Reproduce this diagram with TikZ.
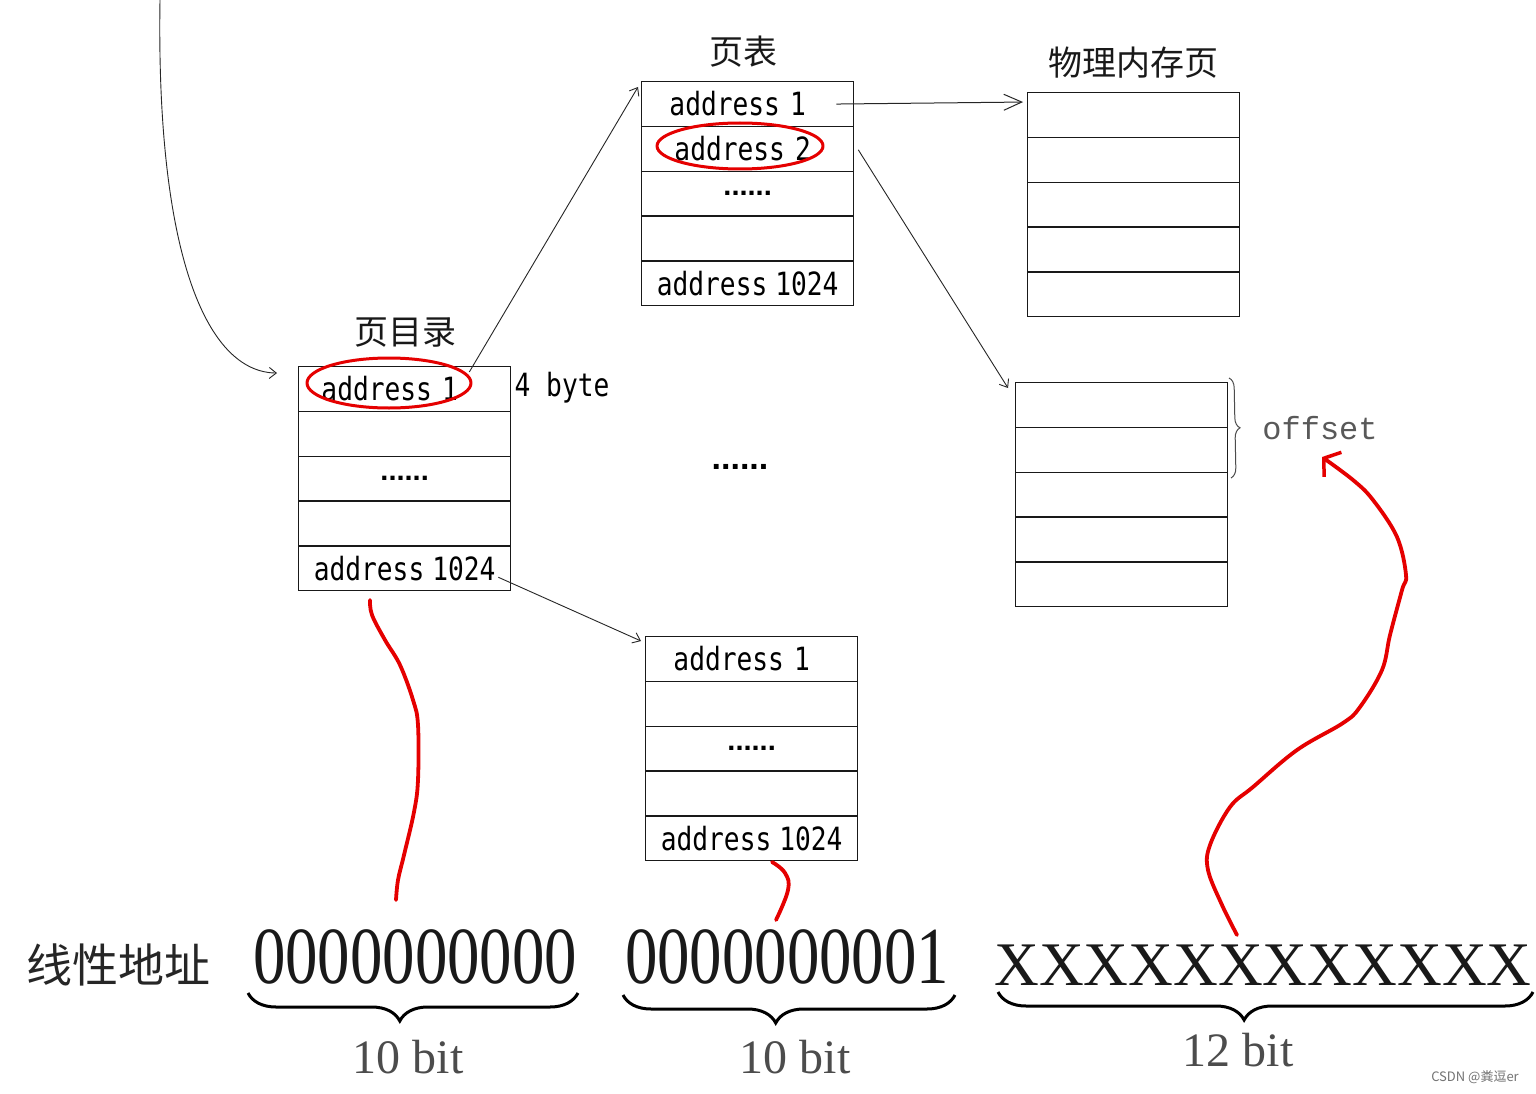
\documentclass[tikz,border=0pt]{standalone}
\usepackage{fontspec}
\usetikzlibrary{arrows.meta,decorations.pathreplacing}
\newfontfamily\cjkfont{Noto Sans CJK SC}
\newfontfamily\addrfont[FakeStretch=0.82]{DejaVu Sans Mono}
\newfontfamily\digitfont[FakeStretch=0.8]{Liberation Serif}
\newfontfamily\bitfont{Liberation Serif}
\newfontfamily\offsetfont{Liberation Mono}
\newfontfamily\dotfont{Liberation Sans}
\newcommand\rowdots{{\dotfont\bfseries\fontsize{29}{30}\selectfont ......}}
\newcommand\mktable[8]{%
  \node[cell] (#1-1) at (#2,#3) {#4};
  \node[cell] (#1-2) at (#2,#3+44.8) {#5};
  \node[cell] (#1-3) at (#2,#3+89.6) {#6};
  \node[cell] (#1-4) at (#2,#3+134.4) {#7};
  \node[cell] (#1-5) at (#2,#3+179.2) {#8};
}
\begin{document}
\begin{tikzpicture}[x=1pt,y=-1pt,
  cell/.style={draw=black!90, line width=1.3pt, minimum width=212pt, minimum height=44.8pt,
    inner sep=0pt, anchor=north west, font=\addrfont\fontsize{32}{32}\selectfont},
  title/.style={font=\cjkfont\fontsize{34}{34}\selectfont, text=black!90},
  conn/.style={draw=black!85, line width=0.9pt, -{Straight Barb[length=7pt,width=11pt]}},
  redline/.style={draw=red!90!black, line width=3.8pt, line cap=round, line join=round},
  bigbrace/.style={draw=black, line width=3pt, decorate,
    decoration={brace, mirror, amplitude=28pt, aspect=0.46}},
  bitlabel/.style={font=\bitfont\fontsize{48}{48}\selectfont, text=black!70}]
\useasboundingbox (0,0) rectangle (1536,1094);
\fill[white] (0,0) rectangle (1536,1094);

% tables
\mktable{dir}{298}{366}{address\hspace{10pt}1\hspace*{30pt}}{}{\rowdots}{}{address\hspace{8pt}1024}
\mktable{pt}{641}{81}{address\hspace{10pt}1\hspace*{20pt}}{address\hspace{10pt}2\hspace*{10pt}}{\rowdots}{}{address\hspace{8pt}1024}
\mktable{pta}{645}{636}{address\hspace{10pt}1\hspace*{20pt}}{}{\rowdots}{}{address\hspace{8pt}1024}
\mktable{pm}{1027}{92}{}{}{}{}{}
\mktable{pmb}{1015}{382}{}{}{}{}{}

% titles
\node[title] (dirT) at (405,333) {页目录};
\node[title] (ptT) at (743,52) {页表};
\node[title] (pmT) at (1133,63) {物理内存页};

% side labels
\node[font=\addrfont\fontsize{32}{32}\selectfont] (fb) at (562,388) {4 byte};
\node[font=\dotfont\bfseries\fontsize{34}{34}\selectfont] (mid) at (740,467) {......};
\node[font=\offsetfont\fontsize{32}{32}\selectfont, text=black!65] (off) at (1320,428) {offset};
\draw[draw=black!70, line width=1pt, decorate, decoration={brace, amplitude=10pt}]
  (1229,378) -- (1231,478);

% red ellipses
\draw[redline, line width=3pt] (389,383) ellipse [x radius=82, y radius=25];
\draw[redline, line width=3pt] (740,146) ellipse [x radius=83, y radius=23];

% connectors
\coordinate (topin) at (160,0);
\draw[conn] (topin) .. controls (156,250) and (205,372) .. ([xshift=-21pt,yshift=16pt]dir-1.west);
\draw[conn] ([xshift=-42pt,yshift=-6pt]dir-1.north east) -- ([xshift=-3pt,yshift=-6pt]pt-1.north west);
\draw[draw=black!85, line width=1pt, -{Straight Barb[length=18pt,width=16pt]}]
  ([xshift=-18pt]pt-1.east) -- ([xshift=-4pt,yshift=13pt]pm-1.west);
\draw[conn] ([xshift=4pt,yshift=-1pt]pt-2.east) -- ([xshift=-7pt,yshift=-6pt]pmb-1.north west);
\draw[conn] ([xshift=-13pt,yshift=-9pt]dir-5.east) -- ([xshift=-4pt,yshift=-5pt]pta-1.north west);

% linear address
\node[font=\cjkfont\fontsize{46}{46}\selectfont, text=black!85] (lin) at (118,965) {线性地址};
\node[font=\digitfont\fontsize{81}{81}\selectfont, text=black!90] (b1) at (415,957) {0000000000};
\node[font=\digitfont\fontsize{81}{81}\selectfont, text=black!90] (b2) at (787,957) {0000000001};
\node[font=\bitfont\fontsize{62}{62}\selectfont, text=black!90] (b3) at (1263,965) {XXXXXXXXXXXX};

\draw[bigbrace] (248,993) -- (578,993);
\draw[bigbrace] (623,995) -- (955,995);
\draw[bigbrace] (998,992) -- (1533,992);
\node[bitlabel] (l1) at (408,1057) {10 bit};
\node[bitlabel] (l2) at (795,1057) {10 bit};
\node[bitlabel] (l3) at (1238,1050) {12 bit};

% red hand-drawn links
\coordinate (r1s) at (370,600);
\coordinate (r1e) at (396,900);
\draw[redline] plot[smooth, tension=0.6] coordinates {(r1s) (372,615) (385,640) (400,665) (413,700) (418,725) (418,780) (414,812) (404,855) (398,880) (r1e)};
\coordinate (r2s) at (772,862);
\coordinate (r2e) at (776,920);
\draw[redline] plot[smooth, tension=0.7] coordinates {(r2s) (785,873) (788,890) (r2e)};
\coordinate (r3s) at (1237,935);
\coordinate (r3e) at (1322,457);
\draw[redline, -{Straight Barb[length=11pt,width=30pt,line width=3.5pt]}] plot[smooth, tension=0.6] coordinates {(r3s) (1222,905) (1208,870) (1210,845) (1230,807) (1253,787) (1297,750) (1343,723) (1360,707) (1382,670) (1390,635) (1402,590) (1406,575) (1397,537) (1373,500) (1353,480) (r3e)};

% watermark
\node[font=\cjkfont\fontsize{13}{13}\selectfont, text=black!55] (wm) at (1475,1077) {CSDN @粪逗er};
\end{tikzpicture}
\end{document}
